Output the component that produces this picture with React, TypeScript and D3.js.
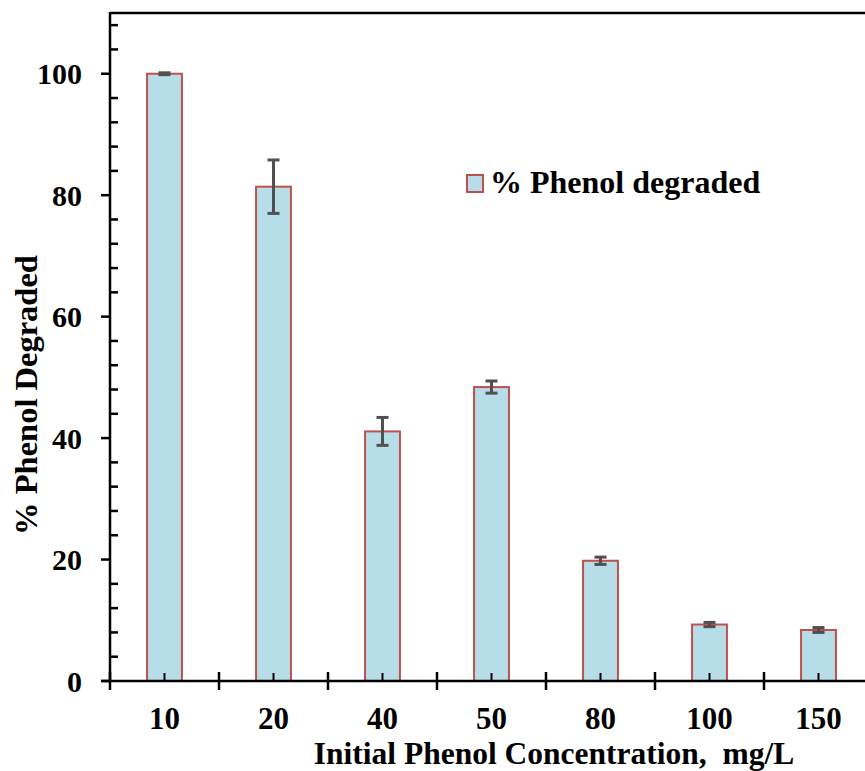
import React from "react";
import * as d3 from "d3";

const categories = ["10", "20", "40", "50", "80", "100", "150"];
const values = [100, 81.4, 41.1, 48.4, 19.8, 9.3, 8.4];
const errors = [0.15, 4.4, 2.3, 1.0, 0.6, 0.35, 0.4];
const yTicks = [0, 20, 40, 60, 80, 100];

const W = 865;
const H = 771;
const left = 110;
const right = 873;
const top = 13;
const bottom = 681;
const FONT = "'Liberation Serif', 'Times New Roman', serif";

export default function App() {
  const x = d3.scaleBand<string>().domain(categories).range([left, right]).padding(0);
  const y = d3.scaleLinear().domain([0, 110]).range([bottom, top]);
  const bw = x.bandwidth() * 0.32;
  const minor = d3.range(0, 111, 4).filter((v) => v % 20 !== 0);
  const boundaries = categories.map((c) => x(c)!).concat([right]);

  return (
    <svg width={W} height={H} style={{ position: "absolute", left: 0, top: 0, background: "#fff" }}>
      {/* bars */}
      {categories.map((c, i) => (
        <rect
          key={c}
          x={x(c)! + x.bandwidth() / 2 - bw / 2}
          y={y(values[i])}
          width={bw}
          height={bottom - y(values[i])}
          fill="#b7dde8"
          stroke="#c0504d"
          strokeWidth={2}
        />
      ))}
      {/* x center minor ticks */}
      {categories.map((c) => (
        <line key={"mt" + c} x1={x(c)! + x.bandwidth() / 2} x2={x(c)! + x.bandwidth() / 2} y1={bottom} y2={bottom - 8} stroke="#000" strokeWidth={2} />
      ))}
      {/* error bars */}
      {categories.map((c, i) => {
        const cx = x(c)! + x.bandwidth() / 2;
        const y1 = y(values[i] + errors[i]);
        const y2 = y(values[i] - errors[i]);
        return (
          <g key={"e" + c} stroke="#505050" strokeWidth={3}>
            <line x1={cx} x2={cx} y1={y1} y2={y2} />
            <line x1={cx - 6} x2={cx + 6} y1={y1} y2={y1} />
            <line x1={cx - 6} x2={cx + 6} y1={y2} y2={y2} />
          </g>
        );
      })}
      {/* top border */}
      <line x1={left} x2={W} y1={top} y2={top} stroke="#000" strokeWidth={2.5} />
      {/* y axis */}
      <line x1={left} x2={left} y1={top - 1} y2={bottom} stroke="#000" strokeWidth={2.5} />
      {yTicks.map((v) => (
        <g key={"y" + v}>
          <line x1={left - 9} x2={left} y1={y(v)} y2={y(v)} stroke="#000" strokeWidth={2.5} />
          <text x={left - 28} y={y(v)} dy="0.35em" textAnchor="end" fontFamily={FONT} fontWeight="bold" fontSize={30}>
            {v}
          </text>
        </g>
      ))}
      {minor.map((v) => (
        <line key={"ym" + v} x1={left} x2={left + 8} y1={y(v)} y2={y(v)} stroke="#000" strokeWidth={2.5} />
      ))}
      {/* x axis */}
      <line x1={left - 9} x2={W} y1={bottom} y2={bottom} stroke="#000" strokeWidth={2.5} />
      {boundaries.map((b, i) => (
        <line key={"xb" + i} x1={b} x2={b} y1={bottom - 9} y2={bottom + 9} stroke="#000" strokeWidth={2.5} />
      ))}
      {categories.map((c) => (
        <text key={"xl" + c} x={x(c)! + x.bandwidth() / 2} y={729} textAnchor="middle" fontFamily={FONT} fontWeight="bold" fontSize={31}>
          {c}
        </text>
      ))}
      <text x={554} y={764} textAnchor="middle" fontFamily={FONT} fontWeight="bold" fontSize={31.5} xmlSpace="preserve">
        Initial Phenol Concentration,  mg/L
      </text>
      <text transform={`translate(37, 395) rotate(-90)`} textAnchor="middle" fontFamily={FONT} fontWeight="bold" fontSize={32.5}>
        % Phenol Degraded
      </text>
      {/* legend */}
      <rect x={467} y={175} width={16} height={17} fill="#b7dde8" stroke="#c0504d" strokeWidth={2} />
      <text x={490} y={193} fontFamily={FONT} fontWeight="bold" fontSize={32}>
        % Phenol degraded
      </text>
    </svg>
  );
}
